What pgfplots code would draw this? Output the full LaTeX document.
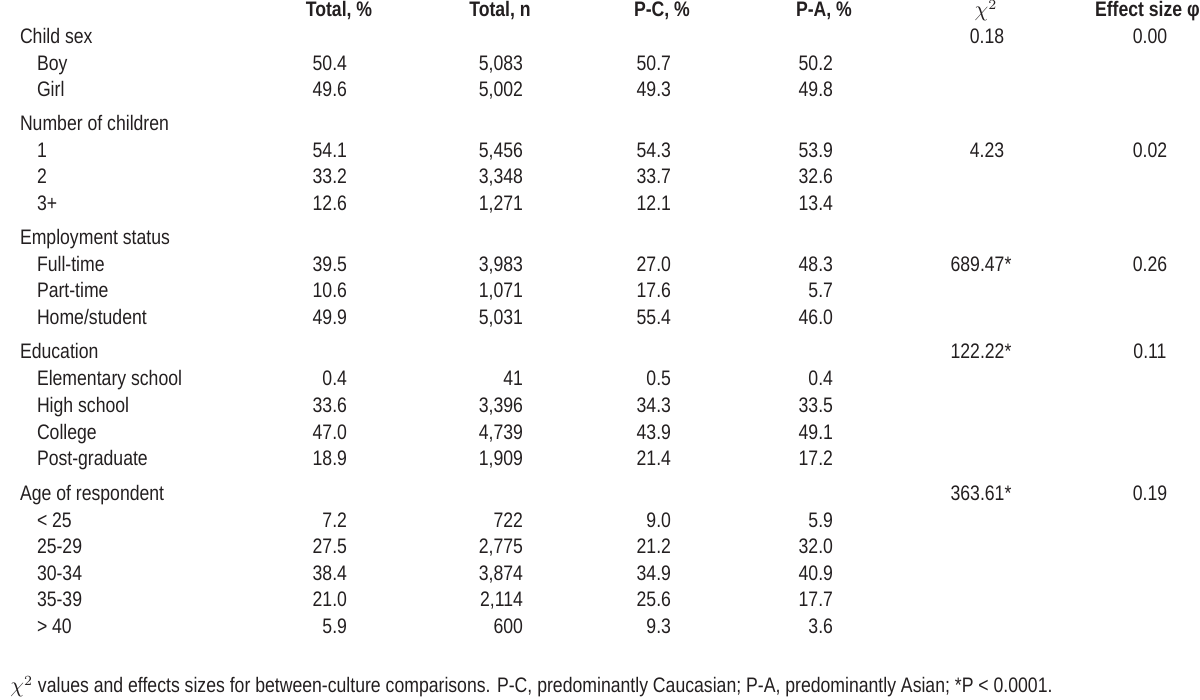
\documentclass[border=0pt]{standalone}
\usepackage{fontspec}
\setmainfont{Liberation Sans}[FakeStretch=0.84]
\usepackage{pgfplots}
\pgfplotsset{compat=1.18}
\definecolor{txt}{RGB}{35,31,32}
\begin{document}
\begin{tikzpicture}
\begin{axis}[
  width=600pt, height=349.5pt, scale only axis,
  xmin=0, xmax=1200, ymin=0, ymax=699, y dir=reverse,
  hide axis, clip=false,
  every node near coord/.append style={font=\fontsize{10.5pt}{12pt}\selectfont, text=txt, inner sep=0pt, outer sep=0pt},
]
\path (rel axis cs:0,0) rectangle (rel axis cs:1,1);
% headers (centered)
\addplot[draw=none, mark=none, nodes near coords, point meta=explicit symbolic,
  every node near coord/.append style={anchor=base}] coordinates {
(339,16) [{\textbf{Total, \%}}]
(500,16) [{\textbf{Total, n}}]
(662,16) [{\textbf{P-C, \%}}]
(824,16) [{\textbf{P-A, \%}}]
(986,16) [{$\chi^{2}$}]
};
\addplot[draw=none, mark=none, nodes near coords, point meta=explicit symbolic,
  every node near coord/.append style={anchor=base west}] coordinates {
(1095,16) [{\textbf{Effect size φ}}]
};
% row labels (left aligned)
\addplot[draw=none, mark=none, nodes near coords, point meta=explicit symbolic,
  every node near coord/.append style={anchor=base west}] coordinates {
(20,43) [Child sex]
(37,70) [Boy]
(37,96) [Girl]
(20,130) [Number of children]
(37,157) [1]
(37,183) [2]
(37,210) [3+]
(20,244) [Employment status]
(37,271) [Full-time]
(37,297) [Part-time]
(37,324) [Home/student]
(20,358) [Education]
(37,385) [Elementary school]
(37,412) [High school]
(37,439) [College]
(37,465) [Post-graduate]
(20,500) [Age of respondent]
(37,527) [< 25]
(37,553) [25-29]
(37,580) [30-34]
(37,606) [35-39]
(37,633) [> 40]
};
% Total, %
\addplot[draw=none, mark=none, nodes near coords, point meta=explicit symbolic,
  every node near coord/.append style={anchor=base east}] coordinates {
(347,70) [50.4] (347,96) [49.6]
(347,157) [54.1] (347,183) [33.2] (347,210) [12.6]
(347,271) [39.5] (347,297) [10.6] (347,324) [49.9]
(347,385) [0.4] (347,412) [33.6] (347,439) [47.0] (347,465) [18.9]
(347,527) [7.2] (347,553) [27.5] (347,580) [38.4] (347,606) [21.0] (347,633) [5.9]
};
% Total, n
\addplot[draw=none, mark=none, nodes near coords, point meta=explicit symbolic,
  every node near coord/.append style={anchor=base east}] coordinates {
(523,70) [{5,083}] (523,96) [{5,002}]
(523,157) [{5,456}] (523,183) [{3,348}] (523,210) [{1,271}]
(523,271) [{3,983}] (523,297) [{1,071}] (523,324) [{5,031}]
(523,385) [41] (523,412) [{3,396}] (523,439) [{4,739}] (523,465) [{1,909}]
(523,527) [722] (523,553) [{2,775}] (523,580) [{3,874}] (523,606) [{2,114}] (523,633) [600]
};
% P-C, %
\addplot[draw=none, mark=none, nodes near coords, point meta=explicit symbolic,
  every node near coord/.append style={anchor=base east}] coordinates {
(671,70) [50.7] (671,96) [49.3]
(671,157) [54.3] (671,183) [33.7] (671,210) [12.1]
(671,271) [27.0] (671,297) [17.6] (671,324) [55.4]
(671,385) [0.5] (671,412) [34.3] (671,439) [43.9] (671,465) [21.4]
(671,527) [9.0] (671,553) [21.2] (671,580) [34.9] (671,606) [25.6] (671,633) [9.3]
};
% P-A, %
\addplot[draw=none, mark=none, nodes near coords, point meta=explicit symbolic,
  every node near coord/.append style={anchor=base east}] coordinates {
(833,70) [50.2] (833,96) [49.8]
(833,157) [53.9] (833,183) [32.6] (833,210) [13.4]
(833,271) [48.3] (833,297) [5.7] (833,324) [46.0]
(833,385) [0.4] (833,412) [33.5] (833,439) [49.1] (833,465) [17.2]
(833,527) [5.9] (833,553) [32.0] (833,580) [40.9] (833,606) [17.7] (833,633) [3.6]
};
% chi-square and effect size (centered)
\addplot[draw=none, mark=none, nodes near coords, point meta=explicit symbolic,
  every node near coord/.append style={anchor=base}] coordinates {
(987,43) [0.18] (987,157) [4.23]
(981,271) [689.47*] (981,358) [122.22*] (981,500) [363.61*]
(1150,43) [0.00] (1150,157) [0.02] (1150,271) [0.26] (1150,358) [0.11] (1150,500) [0.19]
};
% footnote
\node[anchor=base west, inner sep=0pt, text=txt, font=\fontsize{10.5pt}{12pt}\selectfont] at (axis cs:10,692) {$\chi^{2}$ values and effects sizes for between-culture comparisons. P-C, predominantly Caucasian; P-A, predominantly Asian; *P < 0.0001.};
\end{axis}
\end{tikzpicture}
\end{document}
